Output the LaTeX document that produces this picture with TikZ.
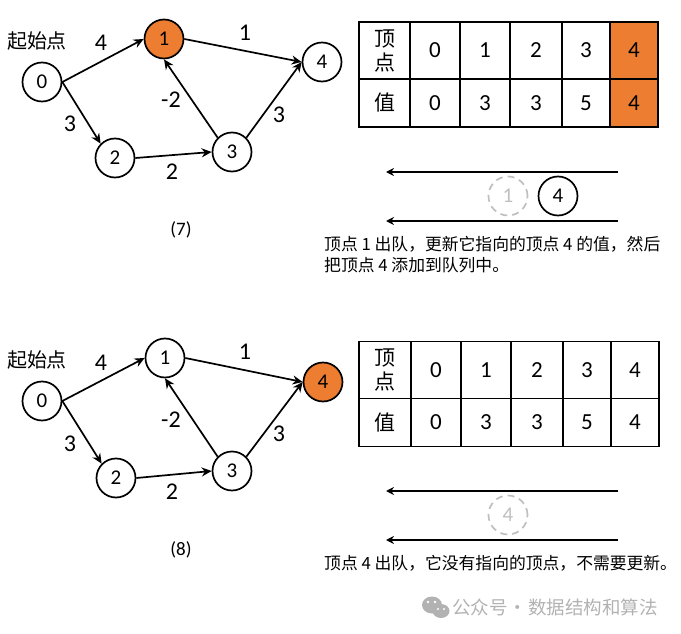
\documentclass[tikz,border=0pt]{standalone}
\usepackage{fontspec}
\setmainfont{Carlito}
\newfontfamily\cjk{Noto Sans CJK SC}
\usepackage{tikz}
\usetikzlibrary{positioning}
\usetikzlibrary{arrows.meta}
\definecolor{orangefill}{RGB}{237,125,49}
\definecolor{ghostgray}{RGB}{191,191,191}
\definecolor{markgray}{RGB}{178,178,178}
\tikzset{
  vertexnode/.style={circle,draw,line width=1.7pt,minimum size=39pt,inner sep=0pt,font=\fontsize{21}{21}\selectfont},
  ghostnode/.style={vertexnode,draw=ghostgray,text=ghostgray,dash pattern=on 7pt off 5pt},
  edgeline/.style={line width=1.7pt,-{Stealth[length=10pt,width=9pt]}},
  queueline/.style={line width=1.8pt,-{Stealth[length=8pt,width=8pt]}},
  weightlabel/.style={inner sep=0pt,font=\fontsize{24}{24}\selectfont},
  cellbox/.style={draw,line width=1.2pt,minimum height=48pt,inner sep=0pt,font=\fontsize{23}{23}\selectfont},
  headbox/.style={cellbox,minimum height=57pt},
  notetext/.style={inner sep=0pt,anchor=north west,align=left,font=\fontsize{16.8}{21}\selectfont\cjk}
}
\begin{document}
\begin{tikzpicture}[x=1pt,y=-1pt]
            \useasboundingbox (0,0) rectangle (681,634);

            % graph (7)
            \node[inner sep=0pt,font=\fontsize{20}{20}\selectfont\cjk] (startA) at (37,41) {起始点};
            \node[vertexnode] (a0) at (42,82) {0};
            \node[vertexnode,fill=orangefill] (a1) at (164,39) {1};
            \node[vertexnode] (a2) at (115,158) {2};
            \node[vertexnode] (a3) at (232,152) {3};
            \node[vertexnode] (a4) at (322,62) {4};

            \draw[edgeline] (a0.east) -- (a1.west);
            \draw[edgeline] (a0.east) -- (a2.north west);
            \draw[edgeline] (a2.east) -- (a3.west);
            \draw[edgeline] (a3.north west) -- (a1.south);
            \draw[edgeline] (a3.north east) -- (a4.west);
            \draw[edgeline] (a1.east) -- (a4.west);

            \node[weightlabel] (wa01) at (101,43) {4};
            \node[weightlabel] (wa02) at (70,124) {3};
            \node[weightlabel] (wa23) at (172,172) {2};
            \node[weightlabel] (wa31) at (171,100) {-2};
            \node[weightlabel] (wa34) at (279,115) {3};
            \node[weightlabel] (wa14) at (245,33) {1};
            \node[inner sep=0pt,font=\fontsize{19}{19}\selectfont] (capA) at (181,230) {(7)};

            % table (7)
            \node[headbox,minimum width=51pt,font=\fontsize{21}{24}\selectfont\cjk,align=center] (ta0) at (384.5,50.5) {顶\\点};
            \node[headbox,minimum width=50pt] (ta1) at (435,50.5) {0};
            \node[headbox,minimum width=50pt] (ta2) at (485,50.5) {1};
            \node[headbox,minimum width=52pt] (ta3) at (536,50.5) {2};
            \node[headbox,minimum width=48pt] (ta4) at (586,50.5) {3};
            \node[headbox,minimum width=48pt,fill=orangefill] (ta5) at (634,50.5) {4};
            \node[cellbox,minimum width=51pt,font=\fontsize{21}{21}\selectfont\cjk] (va0) at (384.5,103) {值};
            \node[cellbox,minimum width=50pt] (va1) at (435,103) {0};
            \node[cellbox,minimum width=50pt] (va2) at (485,103) {3};
            \node[cellbox,minimum width=52pt] (va3) at (536,103) {3};
            \node[cellbox,minimum width=48pt] (va4) at (586,103) {5};
            \node[cellbox,minimum width=48pt,fill=orangefill] (va5) at (634,103) {4};

            % queue (7)
            \coordinate (qa1) at (618,172);
            \coordinate (qa2) at (386,172);
            \coordinate (qa3) at (618,221);
            \coordinate (qa4) at (386,221);
            \draw[queueline] (qa1) -- (qa2);
            \draw[queueline] (qa3) -- (qa4);
            \node[ghostnode] (ga1) at (508,196) {1};
            \node[vertexnode] (qn4) at (558,196) {4};
            \node[notetext] (noteA) at (324,236) {顶点 1 出队，更新它指向的顶点 4 的值，然后\\把顶点 4 添加到队列中。};

            % graph (8)
            \node[inner sep=0pt,font=\fontsize{20}{20}\selectfont\cjk] (startB) at (37,360) {起始点};
            \node[vertexnode] (b0) at (42,401) {0};
            \node[vertexnode] (b1) at (165,358) {1};
            \node[vertexnode] (b2) at (116,478) {2};
            \node[vertexnode] (b3) at (232,471) {3};
            \node[vertexnode,fill=orangefill] (b4) at (323,382) {4};

            \draw[edgeline] (b0.east) -- (b1.west);
            \draw[edgeline] (b0.east) -- (b2.north west);
            \draw[edgeline] (b2.east) -- (b3.west);
            \draw[edgeline] (b3.north west) -- (b1.south);
            \draw[edgeline] (b3.north east) -- (b4.west);
            \draw[edgeline] (b1.east) -- (b4.west);

            \node[weightlabel] (wb01) at (101,363) {4};
            \node[weightlabel] (wb02) at (70,444) {3};
            \node[weightlabel] (wb23) at (172,492) {2};
            \node[weightlabel] (wb31) at (171,420) {-2};
            \node[weightlabel] (wb34) at (279,434) {3};
            \node[weightlabel] (wb14) at (245,352) {1};
            \node[inner sep=0pt,font=\fontsize{19}{19}\selectfont] (capB) at (181,550) {(8)};

            % table (8)
            \node[headbox,minimum width=52pt,font=\fontsize{21}{24}\selectfont\cjk,align=center] (tb0) at (385,370) {顶\\点};
            \node[headbox,minimum width=50pt] (tb1) at (436,370) {0};
            \node[headbox,minimum width=50pt] (tb2) at (486,370) {1};
            \node[headbox,minimum width=52pt] (tb3) at (537,370) {2};
            \node[headbox,minimum width=48pt] (tb4) at (587,370) {3};
            \node[headbox,minimum width=48pt] (tb5) at (635,370) {4};
            \node[cellbox,minimum width=52pt,font=\fontsize{21}{21}\selectfont\cjk] (vb0) at (385,422.5) {值};
            \node[cellbox,minimum width=50pt] (vb1) at (436,422.5) {0};
            \node[cellbox,minimum width=50pt] (vb2) at (486,422.5) {3};
            \node[cellbox,minimum width=52pt] (vb3) at (537,422.5) {3};
            \node[cellbox,minimum width=48pt] (vb4) at (587,422.5) {5};
            \node[cellbox,minimum width=48pt] (vb5) at (635,422.5) {4};

            % queue (8)
            \coordinate (qb1) at (618,491);
            \coordinate (qb2) at (386,491);
            \coordinate (qb3) at (618,540);
            \coordinate (qb4) at (386,540);
            \draw[queueline] (qb1) -- (qb2);
            \draw[queueline] (qb3) -- (qb4);
            \node[ghostnode] (gb4) at (508,515) {4};
            \node[notetext] (noteB) at (324,555) {顶点 4 出队，它没有指向的顶点，不需要更新。};

            % watermark
            \fill[markgray] (432,605) ellipse (10pt and 8.5pt);
            \fill[markgray] (441,611) ellipse (8.5pt and 7pt);
            \fill[white] (428,602) circle (1.3pt) (435,602) circle (1.3pt);
            \fill[white] (438,609) circle (1.1pt) (444,609) circle (1.1pt);
            \node[anchor=west,inner sep=0pt,text=markgray,font=\fontsize{18.5}{18.5}\selectfont\cjk] (markText) at (452,607) {公众号\hspace{1pt}·\hspace{1pt}数据结构和算法};
          \end{tikzpicture}
\end{document}
